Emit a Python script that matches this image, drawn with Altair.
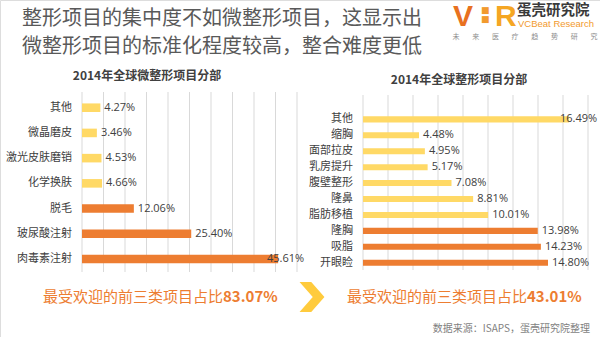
import altair as alt
import pandas as pd

# ---------------- data ----------------
left_cats = ["其他", "微晶磨皮", "激光皮肤磨销", "化学换肤", "脱毛", "玻尿酸注射", "肉毒素注射"]
left_vals = [4.27, 3.46, 4.53, 4.66, 12.06, 25.40, 45.61]
right_cats = ["其他", "缩胸", "面部拉皮", "乳房提升", "腹壁整形", "隆鼻", "脂肪移植", "隆胸", "吸脂", "开眼睑"]
right_vals = [16.49, 4.48, 4.95, 5.17, 7.08, 8.81, 10.01, 13.98, 14.23, 14.80]
left_ticks = [0, 5, 10, 15, 20, 25, 30, 35, 40, 45, 50]
right_ticks = [0, 2, 4, 6, 8, 10, 12, 14, 16, 18]

title_lines = ["整形项目的集中度不如微整形项目，这显示出", "微整形项目的标准化程度较高，整合难度更低"]
left_title = "2014年全球微整形项目分部"
right_title = "2014年全球整形项目分部"
summary_prefix = "最受欢迎的前三类项目占比"
source_text = "数据来源：ISAPS，蛋壳研究院整理"
logo_chars = ["未", "来", "医", "疗", "趋", "势", "研", "究"]

ORANGE = "#ED7D31"
YELLOW = "#FFD966"
GRID = "#D9D9D9"
TXT = "#404040"
FONT = "Noto Sans CJK SC"


def build(cats, vals):
    ranked = sorted([v for c, v in zip(cats, vals) if c != "其他"], reverse=True)[:3]
    df = pd.DataFrame({
        "c": cats,
        "v": vals,
        "g": ["top" if (c != "其他" and v in ranked) else "other" for c, v in zip(cats, vals)],
        "lab": [f"{v:.2f}%" for v in vals],
    })
    return df, sum(ranked)


ldf, ltop = build(left_cats, left_vals)
rdf, rtop = build(right_cats, right_vals)

color = alt.Color("g:N", scale=alt.Scale(domain=["top", "other"], range=[ORANGE, YELLOW]), legend=None)


def panel(df, ticks, xdom, xrange, yrange, pin, gridy, labx, cap):
    xs = alt.Scale(domain=xdom, range=xrange, nice=False, zero=True)
    ys = alt.Scale(domain=list(df["c"]), range=yrange, paddingInner=pin, paddingOuter=pin / 2)
    grid = alt.Chart(pd.DataFrame({"t": ticks})).mark_rule(color=GRID, strokeWidth=1).encode(
        x=alt.X("t:Q", scale=xs, axis=None), y=alt.value(gridy[0]), y2=alt.value(gridy[1]))
    bars = alt.Chart(df).mark_bar().encode(
        x=alt.X("v:Q", scale=xs, axis=None), y=alt.Y("c:N", scale=ys, axis=None), color=color)
    vlab = alt.Chart(df).transform_calculate(lx=f"min(datum.v, {cap})").mark_text(
        align="left", baseline="middle", dx=4, fontSize=11, color=TXT, font="Open Sans").encode(
        x=alt.X("lx:Q", scale=xs, axis=None), y=alt.Y("c:N", scale=ys, axis=None), text="lab:N")
    clab = alt.Chart(df).mark_text(align="right", baseline="middle", fontSize=11, color=TXT, font=FONT).encode(
        x=alt.value(labx), y=alt.Y("c:N", scale=ys, axis=None), text="c:N")
    return [grid, bars, vlab, clab]


def txt(s, x, y, size, col, align="left", weight="normal", font=FONT, baseline="middle"):
    return alt.Chart(pd.DataFrame({"s": [s]})).mark_text(
        align=align, baseline=baseline, fontSize=size, color=col, fontWeight=weight, font=font).encode(
        x=alt.value(x), y=alt.value(y), text="s:N")


layers = []
layers += panel(ldf, left_ticks, [0, 50], [82, 297], [95.1, 271.6], 0.66, (92, 272), 72, 42.1)
layers += panel(rdf, right_ticks, [0, 18], [363, 588], [111.4, 270.7], 0.62, (95, 270), 353, 15.44)

# titles
layers.append(txt(title_lines[0], 22, 19, 20, "#595959"))
layers.append(txt(title_lines[1], 22, 47, 20, "#595959"))
layers.append(txt(left_title, 147, 76, 12, TXT, align="center", weight="bold"))
layers.append(txt(right_title, 459, 80, 12, TXT, align="center", weight="bold"))

# bottom summary
layers.append(txt(summary_prefix, 43, 297, 15, ORANGE))
layers.append(txt(f"{ltop:.2f}%", 223, 297, 15, ORANGE, weight="bold"))
layers.append(txt(summary_prefix, 347, 297, 15, ORANGE))
layers.append(txt(f"{rtop:.2f}%", 527, 297, 15, ORANGE, weight="bold"))
chev = alt.Chart(pd.DataFrame({"s": [1]})).mark_point(
    shape="M-0.83,-1 L-0.05,-1 L0.83,0 L-0.05,1 L-0.83,1 L0.05,0 Z",
    filled=True, size=900, color="#FFCB3D", opacity=1).encode(x=alt.value(312), y=alt.value(297))
layers.append(chev)
layers.append(txt(source_text, 590, 329, 10, "#7F7F7F", align="right"))

# logo
layers.append(txt("V", 453, 26, 30, "#E8711F", weight="bold", font="Liberation Sans", baseline="alphabetic"))
layers.append(txt("■", 481, 10, 9, "#F29A2E", font="DejaVu Sans"))
layers.append(txt("■", 481, 19, 9, "#F29A2E", font="DejaVu Sans"))
layers.append(txt("R", 495, 26, 30, "#F5A623", weight="bold", font="Liberation Sans", baseline="alphabetic"))
layers.append(txt("蛋壳研究院", 517, 11, 14.5, "#3A3A3A", weight="bold"))
layers.append(txt("VCBeat Research", 518, 27, 9.5, "#F29A2E", font="Liberation Sans", baseline="alphabetic"))
for i, ch in enumerate(logo_chars):
    layers.append(txt(ch, 456 + i * 19.7, 38.5, 7, "#8C8C8C", align="center", baseline="alphabetic"))

chart = alt.layer(*layers).resolve_scale(x="independent", y="independent").properties(
    width=600, height=337, autosize=alt.AutoSizeParams(type="none"), padding=0
).configure_view(stroke=None).configure(background="white")

chart.save("out.html", embed_options={"renderer": "svg", "actions": False})
